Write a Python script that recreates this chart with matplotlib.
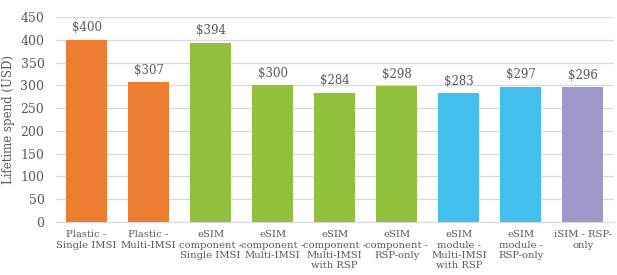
import matplotlib.pyplot as plt
import numpy as np

categories = ['Plastic -\nSingle IMSI', 'Plastic -\nMulti-IMSI',
              'eSIM\ncomponent -\nSingle IMSI', 'eSIM\ncomponent -\nMulti-IMSI',
              'eSIM\ncomponent -\nMulti-IMSI\nwith RSP', 'eSIM\ncomponent -\nRSP-only',
              'eSIM\nmodule -\nMulti-IMSI\nwith RSP', 'eSIM\nmodule -\nRSP-only',
              'iSIM - RSP-\nonly']
values = [400, 307, 394, 300, 284, 298, 283, 297, 296]
colors = ['#ED7D31', '#ED7D31', '#92C13E', '#92C13E', '#92C13E', '#92C13E',
          '#42BFEC', '#42BFEC', '#9D99CB']

plt.rcParams['font.family'] = ['DejaVu Serif']
text_col = '#595959'

fig = plt.figure(figsize=(6.17, 2.75), dpi=100)
ax = fig.add_axes([0.09, 0.193, 0.905, 0.745])

x = np.arange(len(values))
ax.bar(x, values, width=0.66, color=colors, zorder=3)
for xi, v in zip(x, values):
    ax.text(xi, v + 12, '$%d' % v, ha='center', va='bottom', fontsize=8.5, color=text_col)

ax.set_ylim(0, 450)
ax.set_xlim(-0.5, len(values) - 0.5)
ax.set_yticks(np.arange(0, 451, 50))
ax.set_xticks(x)
ax.set_xticklabels(categories, fontsize=7.2, color=text_col, linespacing=1.2)
ax.tick_params(axis='y', labelsize=9, colors=text_col, length=0, pad=8)
ax.tick_params(axis='x', length=0, pad=6)
ax.grid(axis='y', color='#D9D9D9', linewidth=0.9, zorder=0)
for s in ['top', 'right', 'left']:
    ax.spines[s].set_visible(False)
ax.spines['bottom'].set_color('#D9D9D9')
ax.set_ylabel('Lifetime spend (USD)', fontsize=8.5, color=text_col, labelpad=4)

plt.savefig('out.png', dpi=100)
